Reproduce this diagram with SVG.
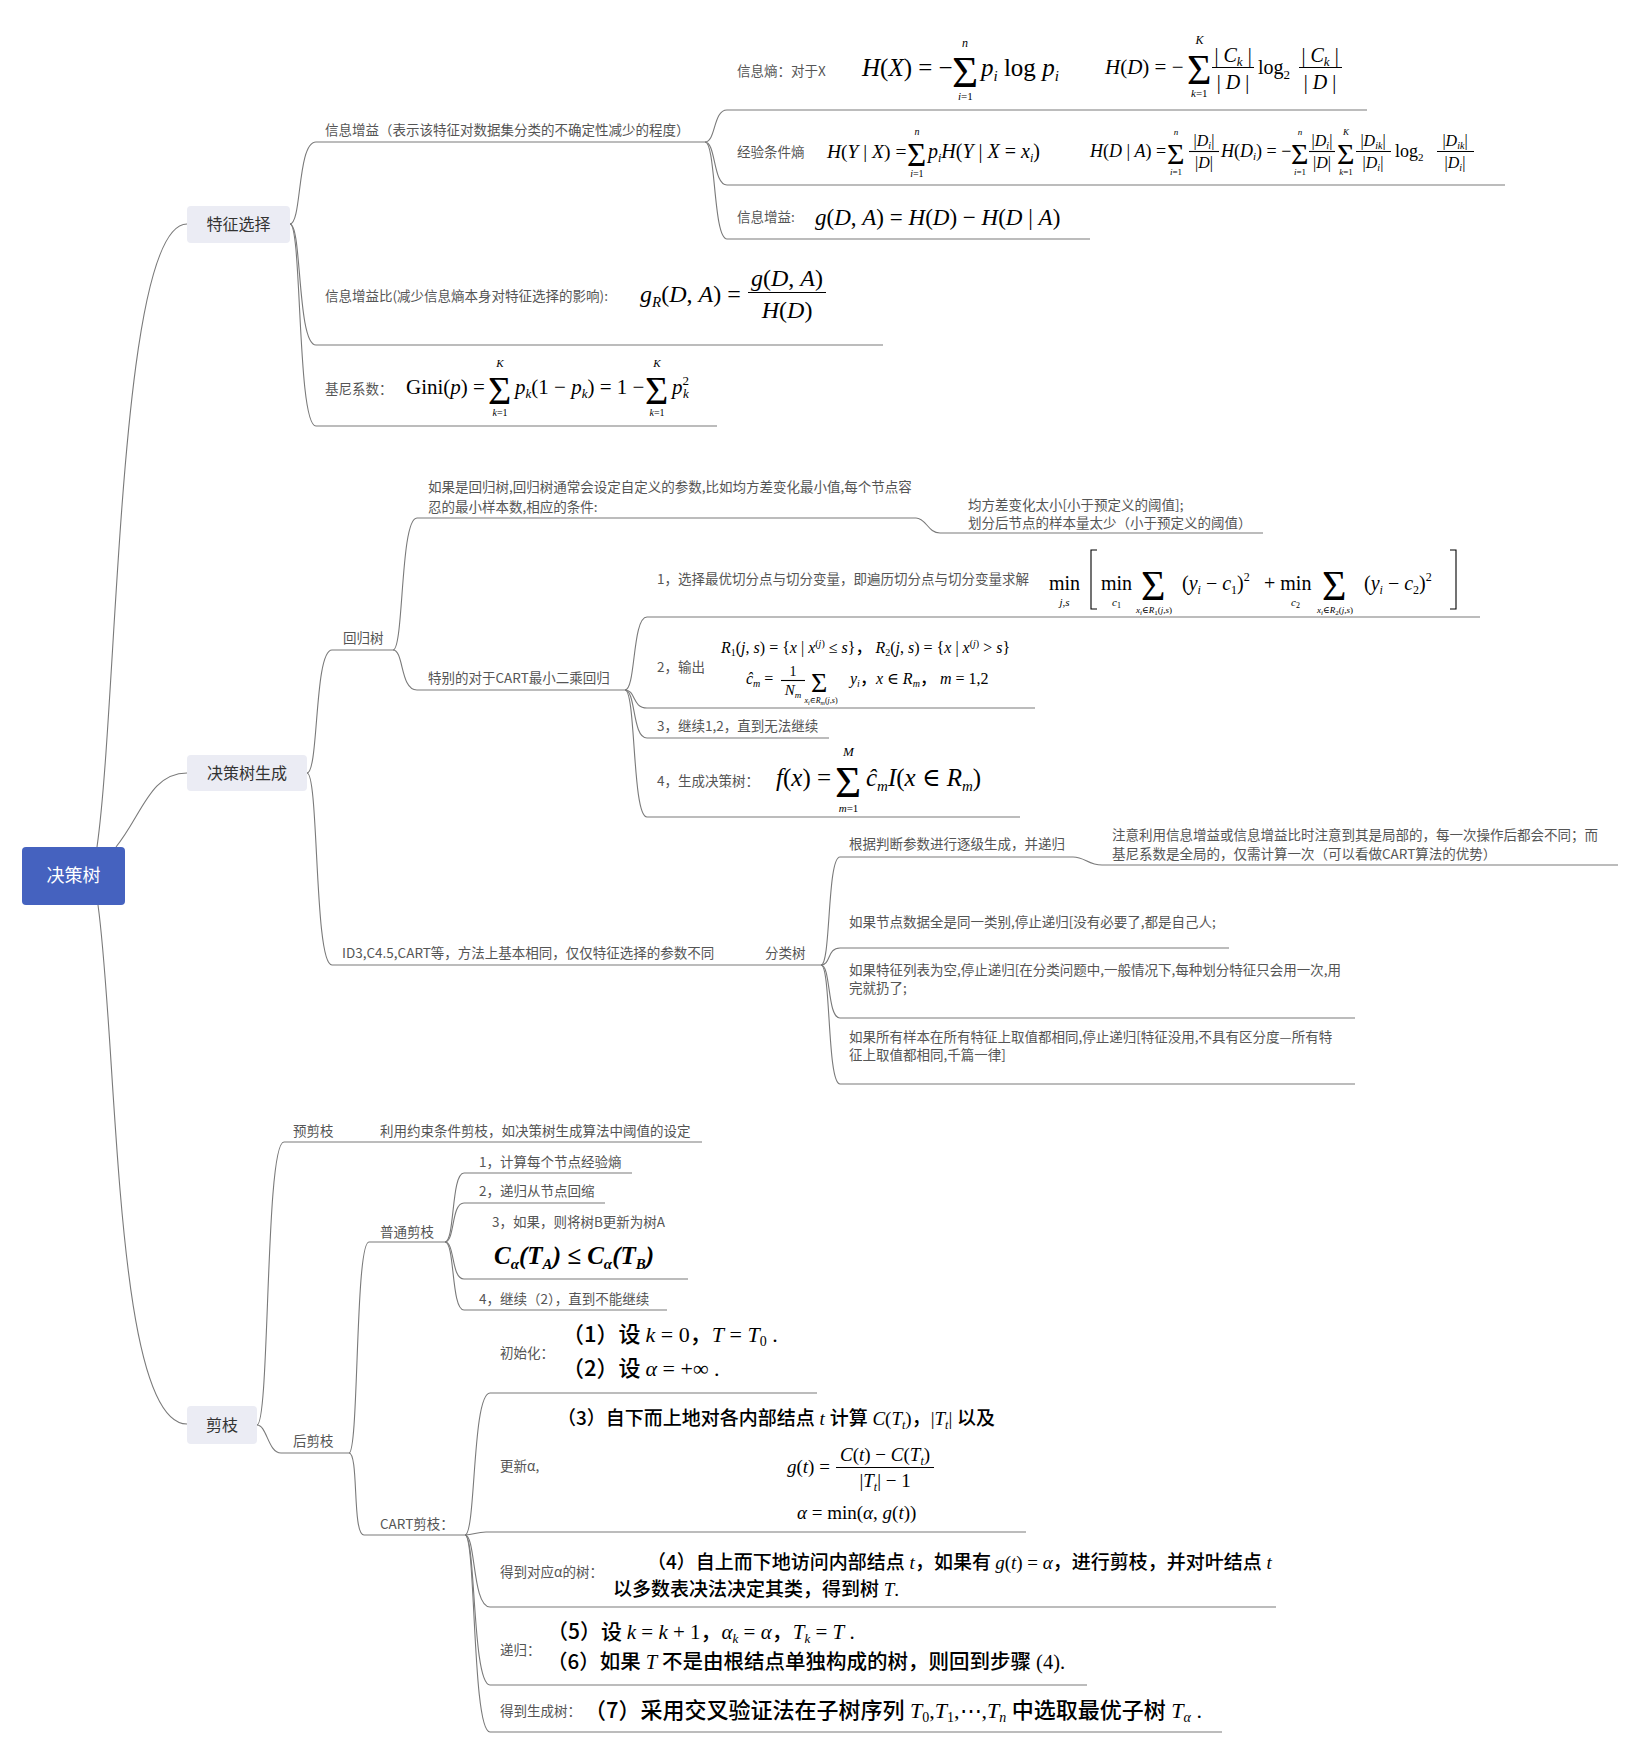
<svg xmlns="http://www.w3.org/2000/svg" width="1638" height="1752" viewBox="0 0 1638 1752">
<style>
.lk{fill:none;stroke:#7a7a7a;stroke-width:1.1}
.t{font-family:"Noto Sans CJK SC","Noto Sans",sans-serif;font-size:13.5px;fill:#555}
.b{font-family:"Noto Sans CJK SC",sans-serif;font-size:16px;fill:#333;text-anchor:middle}
.box{fill:#ebecf4}
.f{font-family:"Liberation Serif","DejaVu Serif",serif;fill:#000}
.i{font-style:italic}
.u{font-style:normal}
.c{font-family:"Noto Sans CJK SC",sans-serif;fill:#000;font-weight:500}
.bar{stroke:#000;stroke-width:1.1;fill:none}
</style>
<rect width="1638" height="1752" fill="#fff"/>
<g id="connectors">
<path class="lk" d="M97 847 C118 700,118 224,187 224"/>
<path class="lk" d="M116 847 C142 815,150 773,187 773"/>
<path class="lk" d="M98 905 C118 1050,114 1424,187 1424"/>
<path class="lk" d="M290 224 C302 224,297 142,316 142 L705 142"/>
<path class="lk" d="M290 224 C302 224,297 345,316 345 L883 345"/>
<path class="lk" d="M290 224 C302 224,297 426,316 426 L717 426"/>
<path class="lk" d="M705 142 C716 142,713 110,727 110 L1367 110"/>
<path class="lk" d="M705 142 C716 142,713 185,727 185 L1505 185"/>
<path class="lk" d="M705 142 C716 142,713 239,727 239 L1090 239"/>
<path class="lk" d="M307 773 C319 773,314 650,332 650 L393 650"/>
<path class="lk" d="M307 773 C319 773,314 965,332 965 L821 965"/>
<path class="lk" d="M393 650 C404 650,400 518,417 518 L916 518 C926 518,928 533,940 533 L1263 533"/>
<path class="lk" d="M393 650 C404 650,400 690,417 690 L625 690"/>
<path class="lk" d="M625 690 C636 690,632 617,647 617 L1480 617"/>
<path class="lk" d="M625 690 C636 690,632 708,647 708 L1035 708"/>
<path class="lk" d="M625 690 C636 690,632 738,647 738 L829 738"/>
<path class="lk" d="M625 690 C636 690,632 817,647 817 L1020 817"/>
<path class="lk" d="M821 965 C831 965,827 857,840 857 L1073 857 C1085 857,1088 865,1102 865 L1618 865"/>
<path class="lk" d="M821 965 C831 965,827 948,840 948 L1229 948"/>
<path class="lk" d="M821 965 C831 965,827 1018,840 1018 L1355 1018"/>
<path class="lk" d="M821 965 C831 965,827 1084,840 1084 L1355 1084"/>
<path class="lk" d="M257 1425 C270 1425,265 1142,284 1142 L702 1142"/>
<path class="lk" d="M257 1425 C267 1425,268 1453,281 1453 L349 1453"/>
<path class="lk" d="M349 1453 C359 1453,355 1242,369 1242 L445 1242"/>
<path class="lk" d="M349 1453 C359 1453,352 1535,364 1535 L465 1535"/>
<path class="lk" d="M445 1242 C455 1242,451 1173,464 1173 L632 1173"/>
<path class="lk" d="M445 1242 C455 1242,451 1203,464 1203 L605 1203"/>
<path class="lk" d="M445 1242 C455 1242,451 1279,464 1279 L688 1279"/>
<path class="lk" d="M445 1242 C455 1242,451 1310,464 1310 L667 1310"/>
<path class="lk" d="M465 1535 C476 1535,472 1393,490 1393 L817 1393"/>
<path class="lk" d="M465 1535 C474 1535,476 1532,486 1532 L1026 1532"/>
<path class="lk" d="M465 1535 C476 1535,472 1607,490 1607 L1276 1607"/>
<path class="lk" d="M465 1535 C476 1535,472 1685,490 1685 L1087 1685"/>
<path class="lk" d="M465 1535 C476 1535,472 1732,490 1732 L1222 1732"/>
</g>

<g id="root">
<rect x="22" y="847" width="103" height="58" rx="4" fill="#4562bf"/>
<text x="73.5" y="882" font-family="Noto Sans CJK SC,sans-serif" font-size="18" fill="#fff" text-anchor="middle">决策树</text>
</g>

<g id="n-feature">
<rect class="box" x="187" y="206" width="103" height="37" rx="4"/>
<text class="b" x="238.5" y="230">特征选择</text>
</g>
<g id="n-gen">
<rect class="box" x="187" y="755" width="120" height="36" rx="4"/>
<text class="b" x="247" y="779">决策树生成</text>
</g>
<g id="n-prune">
<rect class="box" x="187" y="1406" width="70" height="38" rx="4"/>
<text class="b" x="222" y="1431">剪枝</text>
</g>

<g id="n-ig">
<text class="t" x="325" y="135">信息增益（表示该特征对数据集分类的不确定性减少的程度）</text>
</g>

<g id="n-entropy">
<text class="t" x="737" y="76">信息熵：对于X</text>
<text class="f" y="76" font-size="25"><tspan x="862" class="i">H</tspan>(<tspan class="i">X</tspan>) = −<tspan x="952" y="87" font-size="45">Σ</tspan><tspan x="962" y="47" font-size="12" class="i">n</tspan><tspan x="958" y="100" font-size="11"><tspan class="i">i</tspan>=1</tspan><tspan x="981" y="76" class="i">p</tspan><tspan class="i" font-size="15" dy="5">i</tspan><tspan dy="-5"> log </tspan><tspan class="i">p</tspan><tspan class="i" font-size="15" dy="5">i</tspan></text>
<text class="f" y="74" font-size="21"><tspan x="1105" class="i">H</tspan>(<tspan class="i">D</tspan>) = −<tspan x="1187" y="84" font-size="42">Σ</tspan><tspan x="1195.5" y="44" font-size="12" class="i">K</tspan><tspan x="1191" y="97" font-size="11"><tspan class="i">k</tspan>=1</tspan><tspan x="1214.5" y="62" font-size="20">| <tspan class="i">C</tspan><tspan class="i" font-size="13" dy="4">k</tspan><tspan dy="-4"> |</tspan></tspan><tspan x="1216.8" y="89" font-size="20">| <tspan class="i">D</tspan> |</tspan><tspan x="1258" y="74" font-size="20">log</tspan><tspan font-size="13" dy="5">2</tspan><tspan x="1301.5" y="62" font-size="20">| <tspan class="i">C</tspan><tspan class="i" font-size="13" dy="4">k</tspan><tspan dy="-4"> |</tspan></tspan><tspan x="1303.8" y="89" font-size="20">| <tspan class="i">D</tspan> |</tspan></text>
<path class="bar" d="M1212 67.5 H1254"/>
<path class="bar" d="M1299 67.5 H1342"/>
</g>

<g id="n-condent">
<text class="t" x="737" y="157">经验条件熵</text>
<text class="f" y="158" font-size="19.5"><tspan x="827" class="i">H</tspan>(<tspan class="i">Y</tspan> | <tspan class="i">X</tspan>) =<tspan x="907" y="166" font-size="33">Σ</tspan><tspan x="914.4" y="135" font-size="10" class="i">n</tspan><tspan x="910.2" y="177" font-size="10"><tspan class="i">i</tspan>=1</tspan><tspan x="928" y="158" font-size="20"><tspan class="i">p</tspan><tspan class="i" font-size="12" dy="4">i</tspan><tspan dy="-4" class="i">H</tspan>(<tspan class="i">Y</tspan> | <tspan class="i">X</tspan> = <tspan class="i">x</tspan><tspan class="i" font-size="12" dy="4">i</tspan><tspan dy="-4">)</tspan></tspan></text>
<text class="f" y="157" font-size="18"><tspan x="1090" class="i">H</tspan>(<tspan class="i">D</tspan> | <tspan class="i">A</tspan>) =<tspan x="1167" y="164" font-size="30">Σ</tspan><tspan x="1173.7" y="135" font-size="9" class="i">n</tspan><tspan x="1170" y="175" font-size="9"><tspan class="i">i</tspan>=1</tspan><tspan x="1193.6" y="146" font-size="16">|<tspan class="i">D</tspan><tspan class="i" font-size="10" dy="3">i</tspan><tspan dy="-3">|</tspan></tspan><tspan x="1195" y="168" font-size="16">|<tspan class="i">D</tspan>|</tspan><tspan x="1221" y="157" class="i">H</tspan>(<tspan class="i">D</tspan><tspan class="i" font-size="11" dy="3">i</tspan><tspan dy="-3">) = −</tspan><tspan x="1291" y="164" font-size="30">Σ</tspan><tspan x="1297.7" y="135" font-size="9" class="i">n</tspan><tspan x="1294" y="175" font-size="9"><tspan class="i">i</tspan>=1</tspan><tspan x="1311.6" y="146" font-size="16">|<tspan class="i">D</tspan><tspan class="i" font-size="10" dy="3">i</tspan><tspan dy="-3">|</tspan></tspan><tspan x="1313" y="168" font-size="16">|<tspan class="i">D</tspan>|</tspan><tspan x="1337" y="164" font-size="30">Σ</tspan><tspan x="1343" y="135" font-size="9" class="i">K</tspan><tspan x="1339.2" y="175" font-size="9"><tspan class="i">k</tspan>=1</tspan><tspan x="1360.4" y="146" font-size="16">|<tspan class="i">D</tspan><tspan class="i" font-size="10" dy="3">ik</tspan><tspan dy="-3">|</tspan></tspan><tspan x="1362.6" y="168" font-size="16">|<tspan class="i">D</tspan><tspan class="i" font-size="10" dy="3">i</tspan><tspan dy="-3">|</tspan></tspan><tspan x="1395" y="157">log</tspan><tspan font-size="11" dy="4">2</tspan><tspan x="1442.4" y="146" font-size="16">|<tspan class="i">D</tspan><tspan class="i" font-size="10" dy="3">ik</tspan><tspan dy="-3">|</tspan></tspan><tspan x="1444.6" y="168" font-size="16">|<tspan class="i">D</tspan><tspan class="i" font-size="10" dy="3">i</tspan><tspan dy="-3">|</tspan></tspan></text>
<path class="bar" d="M1189 151.5 H1219"/>
<path class="bar" d="M1309 151.5 H1335"/>
<path class="bar" d="M1356 151.5 H1391"/>
<path class="bar" d="M1437 151.5 H1474"/>
</g>

<g id="n-gain">
<text class="t" x="737" y="222">信息增益:</text>
<text class="f" x="815" y="225" font-size="23"><tspan class="i">g</tspan>(<tspan class="i">D</tspan>, <tspan class="i">A</tspan>) = <tspan class="i">H</tspan>(<tspan class="i">D</tspan>) − <tspan class="i">H</tspan>(<tspan class="i">D</tspan> | <tspan class="i">A</tspan>)</text>
</g>

<g id="n-gainratio">
<text class="t" x="325" y="301">信息增益比(减少信息熵本身对特征选择的影响):</text>
<text class="f" y="302" font-size="24"><tspan x="640" class="i">g</tspan><tspan class="i" font-size="15" dy="5">R</tspan><tspan dy="-5">(</tspan><tspan class="i">D</tspan>, <tspan class="i">A</tspan>) =<tspan x="751" y="286" class="i">g</tspan>(<tspan class="i">D</tspan>, <tspan class="i">A</tspan>)<tspan x="761.7" y="318" class="i">H</tspan>(<tspan class="i">D</tspan>)</text>
<path class="bar" d="M748 292.5 H826"/>
</g>

<g id="n-gini">
<text class="t" x="325" y="394">基尼系数：</text>
<text class="f" y="394" font-size="21"><tspan x="406">Gini(</tspan><tspan class="i">p</tspan>) =<tspan x="488" y="404" font-size="40">Σ</tspan><tspan x="496.3" y="367" font-size="11" class="i">K</tspan><tspan x="492.5" y="416" font-size="10"><tspan class="i">k</tspan>=1</tspan><tspan x="515" y="394" class="i">p</tspan><tspan class="i" font-size="13" dy="4">k</tspan><tspan dy="-4">(1 − </tspan><tspan class="i">p</tspan><tspan class="i" font-size="13" dy="4">k</tspan><tspan dy="-4">) = 1 −</tspan><tspan x="645" y="404" font-size="40">Σ</tspan><tspan x="653.3" y="367" font-size="11" class="i">K</tspan><tspan x="649.5" y="416" font-size="10"><tspan class="i">k</tspan>=1</tspan><tspan x="672" y="394" class="i">p</tspan><tspan font-size="13" dy="-9">2</tspan><tspan class="i" font-size="13" dx="-6" dy="13">k</tspan></text>
</g>

<g id="n-regtree">
<text class="t" x="343" y="643">回归树</text>
</g>
<g id="n-regcond">
<text class="t" x="428" y="492">如果是回归树,回归树通常会设定自定义的参数,比如均方差变化最小值,每个节点容</text>
<text class="t" x="428" y="512">忍的最小样本数,相应的条件:</text>
</g>
<g id="n-regstop">
<text class="t" x="968" y="510">均方差变化太小[小于预定义的阈值];</text>
<text class="t" x="968" y="528">划分后节点的样本量太少（小于预定义的阈值）</text>
</g>
<g id="n-cart">
<text class="t" x="428" y="683">特别的对于CART最小二乘回归</text>
</g>

<g id="n-step1">
<text class="t" x="657" y="584">1，选择最优切分点与切分变量，即遍历切分点与切分变量求解</text>
<text class="f" y="590" font-size="20"><tspan x="1049">min</tspan><tspan x="1059.5" y="606" font-size="11" class="i">j,s</tspan><tspan x="1101" y="590">min</tspan><tspan x="1112" y="606" font-size="11"><tspan class="i">c</tspan><tspan font-size="8" dy="2">1</tspan></tspan><tspan x="1141" y="600" font-size="42">Σ</tspan><tspan x="1136" y="613" font-size="9"><tspan class="i">x</tspan><tspan class="i" font-size="7" dy="2">i</tspan><tspan dy="-2">∈</tspan><tspan class="i">R</tspan><tspan font-size="7" dy="2">1</tspan><tspan dy="-2">(</tspan><tspan class="i">j</tspan>,<tspan class="i">s</tspan>)</tspan><tspan x="1182" y="590">(</tspan><tspan class="i">y</tspan><tspan class="i" font-size="12" dy="4">i</tspan><tspan dy="-4"> − </tspan><tspan class="i">c</tspan><tspan font-size="12" dy="4">1</tspan><tspan dy="-4">)</tspan><tspan font-size="12" dy="-9">2</tspan><tspan x="1264" y="590">+ min</tspan><tspan x="1291" y="606" font-size="11"><tspan class="i">c</tspan><tspan font-size="8" dy="2">2</tspan></tspan><tspan x="1322" y="600" font-size="42">Σ</tspan><tspan x="1317" y="613" font-size="9"><tspan class="i">x</tspan><tspan class="i" font-size="7" dy="2">i</tspan><tspan dy="-2">∈</tspan><tspan class="i">R</tspan><tspan font-size="7" dy="2">2</tspan><tspan dy="-2">(</tspan><tspan class="i">j</tspan>,<tspan class="i">s</tspan>)</tspan><tspan x="1364" y="590">(</tspan><tspan class="i">y</tspan><tspan class="i" font-size="12" dy="4">i</tspan><tspan dy="-4"> − </tspan><tspan class="i">c</tspan><tspan font-size="12" dy="4">2</tspan><tspan dy="-4">)</tspan><tspan font-size="12" dy="-9">2</tspan></text>
<path class="bar" d="M1097 550 H1091 V609 H1097" stroke-width="1.5"/>
<path class="bar" d="M1450 550 H1456 V609 H1450" stroke-width="1.5"/>
</g>

<g id="n-step2">
<text class="t" x="657" y="672">2，输出</text>
<text class="f" x="721" y="653" font-size="16"><tspan class="i">R</tspan><tspan font-size="10" dy="3">1</tspan><tspan dy="-3">(</tspan><tspan class="i">j</tspan>, <tspan class="i">s</tspan>) = {<tspan class="i">x</tspan> | <tspan class="i">x</tspan><tspan font-size="10" dy="-6">(</tspan><tspan font-size="10" class="i">j</tspan><tspan font-size="10">)</tspan><tspan dy="6"> ≤ </tspan><tspan class="i">s</tspan>}<tspan class="c" font-weight="400">，</tspan> <tspan class="i">R</tspan><tspan font-size="10" dy="3">2</tspan><tspan dy="-3">(</tspan><tspan class="i">j</tspan>, <tspan class="i">s</tspan>) = {<tspan class="i">x</tspan> | <tspan class="i">x</tspan><tspan font-size="10" dy="-6">(</tspan><tspan font-size="10" class="i">j</tspan><tspan font-size="10">)</tspan><tspan dy="6"> &gt; </tspan><tspan class="i">s</tspan>}</text>
<text class="f" y="684" font-size="16"><tspan x="746" class="i">ĉ</tspan><tspan class="i" font-size="10" dy="3">m</tspan><tspan dy="-3"> =</tspan><tspan x="789.5" y="676" font-size="14">1</tspan><tspan x="784.8" y="695" font-size="15"><tspan class="i">N</tspan><tspan class="i" font-size="9" dy="3">m</tspan></tspan><tspan x="811" y="692" font-size="28">Σ</tspan><tspan x="804.5" y="703" font-size="8"><tspan class="i">x</tspan><tspan class="i" font-size="6" dy="2">i</tspan><tspan dy="-2">∈</tspan><tspan class="i">R</tspan><tspan class="i" font-size="6" dy="2">m</tspan><tspan dy="-2">(</tspan><tspan class="i">j</tspan>,<tspan class="i">s</tspan>)</tspan><tspan x="850" y="684" class="i">y</tspan><tspan class="i" font-size="10" dy="3">i</tspan><tspan dy="-3" class="c" font-weight="400">，</tspan><tspan class="i">x</tspan> ∈ <tspan class="i">R</tspan><tspan class="i" font-size="10" dy="3">m</tspan><tspan dy="-3" class="c" font-weight="400">，</tspan> <tspan class="i">m</tspan> = 1,2</text>
<path class="bar" d="M781 680.5 H805"/>
</g>

<g id="n-step3">
<text class="t" x="657" y="731">3，继续1,2，直到无法继续</text>
</g>

<g id="n-step4">
<text class="t" x="657" y="786">4，生成决策树：</text>
<text class="f" y="786" font-size="25"><tspan x="776" class="i">f</tspan>(<tspan class="i">x</tspan>) =<tspan x="835" y="797" font-size="45">Σ</tspan><tspan x="843" y="756" font-size="13" class="i">M</tspan><tspan x="838.7" y="812" font-size="11"><tspan class="i">m</tspan>=1</tspan><tspan x="866" y="786" class="i">ĉ</tspan><tspan class="i" font-size="15" dy="5">m</tspan><tspan dy="-5" class="i">I</tspan>(<tspan class="i">x</tspan> ∈ <tspan class="i">R</tspan><tspan class="i" font-size="15" dy="5">m</tspan><tspan dy="-5">)</tspan></text>
</g>

<g id="n-id3">
<text class="t" x="342" y="958">ID3,C4.5,CART等，方法上基本相同，仅仅特征选择的参数不同</text>
</g>
<g id="n-clstree">
<text class="t" x="765" y="958">分类树</text>
</g>
<g id="n-cls1">
<text class="t" x="849" y="849">根据判断参数进行逐级生成，并递归</text>
</g>
<g id="n-cls1note">
<text class="t" x="1112" y="840">注意利用信息增益或信息增益比时注意到其是局部的，每一次操作后都会不同；而</text>
<text class="t" x="1112" y="859">基尼系数是全局的，仅需计算一次（可以看做CART算法的优势）</text>
</g>
<g id="n-cls2">
<text class="t" x="849" y="927">如果节点数据全是同一类别,停止递归[没有必要了,都是自己人;</text>
</g>
<g id="n-cls3">
<text class="t" x="849" y="975">如果特征列表为空,停止递归[在分类问题中,一般情况下,每种划分特征只会用一次,用</text>
<text class="t" x="849" y="993">完就扔了;</text>
</g>
<g id="n-cls4">
<text class="t" x="849" y="1042">如果所有样本在所有特征上取值都相同,停止递归[特征没用,不具有区分度—所有特</text>
<text class="t" x="849" y="1060">征上取值都相同,千篇一律]</text>
</g>

<g id="n-pre">
<text class="t" x="293" y="1136">预剪枝</text>
<text class="t" x="380" y="1136">利用约束条件剪枝，如决策树生成算法中阈值的设定</text>
</g>
<g id="n-post">
<text class="t" x="293" y="1446">后剪枝</text>
</g>
<g id="n-normal">
<text class="t" x="380" y="1237">普通剪枝</text>
</g>
<g id="n-n1"><text class="t" x="479" y="1167">1，计算每个节点经验熵</text></g>
<g id="n-n2"><text class="t" x="479" y="1196">2，递归从节点回缩</text></g>
<g id="n-n3">
<text class="t" x="492" y="1227">3，如果，则将树B更新为树A</text>
<text class="f" x="494" y="1264" font-size="25" font-weight="bold" font-style="italic">C<tspan font-size="15" dy="5">α</tspan><tspan dy="-5">(T</tspan><tspan font-size="15" dy="5">A</tspan><tspan dy="-5">)  ≤  C</tspan><tspan font-size="15" dy="5">α</tspan><tspan dy="-5">(T</tspan><tspan font-size="15" dy="5">B</tspan><tspan dy="-5">)</tspan></text>
</g>
<g id="n-n4"><text class="t" x="479" y="1304">4，继续（2），直到不能继续</text></g>

<g id="n-cartprune">
<text class="t" x="380" y="1529">CART剪枝：</text>
</g>
<g id="n-init">
<text class="t" x="500" y="1358">初始化：</text>
<text class="c" x="562" y="1342" font-size="22">（1）设 <tspan class="f i">k</tspan><tspan class="f"> = 0</tspan>，<tspan class="f i">T</tspan><tspan class="f"> = </tspan><tspan class="f i">T</tspan><tspan class="f" font-size="14" dy="4">0</tspan><tspan class="f" dy="-4"> .</tspan></text>
<text class="c" x="562" y="1376" font-size="22">（2）设 <tspan class="f i">α</tspan><tspan class="f"> = +∞ .</tspan></text>
</g>
<g id="n-update">
<text class="t" x="500" y="1471">更新α,</text>
<text class="c" x="557" y="1425" font-size="19">（3）自下而上地对各内部结点<tspan class="f i"> t </tspan>计算<tspan class="f"> <tspan class="i">C</tspan>(<tspan class="i">T</tspan><tspan class="i" font-size="12" dy="4">t</tspan><tspan dy="-4">)</tspan></tspan>，<tspan class="f">|<tspan class="i">T</tspan><tspan class="i" font-size="12" dy="4">t</tspan><tspan dy="-4">| </tspan></tspan>以及</text>
<text class="f" y="1473" font-size="19"><tspan x="787" class="i">g</tspan>(<tspan class="i">t</tspan>) =<tspan x="840" y="1461" class="i">C</tspan>(<tspan class="i">t</tspan>) − <tspan class="i">C</tspan>(<tspan class="i">T</tspan><tspan class="i" font-size="12" dy="4">t</tspan><tspan dy="-4">)</tspan><tspan x="859.4" y="1487">|</tspan><tspan class="i">T</tspan><tspan class="i" font-size="12" dy="4">t</tspan><tspan dy="-4">| − 1</tspan></text>
<path class="bar" d="M836 1467.5 H934"/>
<text class="f" x="797" y="1519" font-size="19"><tspan class="i">α</tspan> = min(<tspan class="i">α</tspan>, <tspan class="i">g</tspan>(<tspan class="i">t</tspan>))</text>
</g>
<g id="n-getalpha">
<text class="t" x="500" y="1577">得到对应α的树：</text>
<text class="c" x="647" y="1569" font-size="19">（4）自上而下地访问内部结点<tspan class="f i"> t</tspan>，如果有 <tspan class="f"><tspan class="i">g</tspan>(<tspan class="i">t</tspan>) = <tspan class="i">α</tspan></tspan>，进行剪枝，并对叶结点<tspan class="f i"> t</tspan></text>
<text class="c" x="613" y="1596" font-size="19">以多数表决法决定其类，得到树<tspan class="f i"> T</tspan><tspan class="f">.</tspan></text>
</g>
<g id="n-recur">
<text class="t" x="500" y="1655">递归：</text>
<text class="c" x="547" y="1639" font-size="21">（5）设 <tspan class="f i">k</tspan><tspan class="f"> = </tspan><tspan class="f i">k</tspan><tspan class="f"> + 1</tspan>，<tspan class="f i">α</tspan><tspan class="f i" font-size="13" dy="4">k</tspan><tspan class="f" dy="-4"> = </tspan><tspan class="f i">α</tspan>，<tspan class="f i">T</tspan><tspan class="f i" font-size="13" dy="4">k</tspan><tspan class="f" dy="-4"> = </tspan><tspan class="f i">T</tspan><tspan class="f"> .</tspan></text>
<text class="c" x="547" y="1669" font-size="20.5">（6）如果<tspan class="f i"> T </tspan>不是由根结点单独构成的树，则回到步骤<tspan class="f"> (4).</tspan></text>
</g>
<g id="n-final">
<text class="t" x="500" y="1716">得到生成树：</text>
<text class="c" x="584" y="1718" font-size="22">（7）采用交叉验证法在子树序列<tspan class="f"> <tspan class="i">T</tspan><tspan font-size="14" dy="4">0</tspan><tspan dy="-4">,</tspan><tspan class="i">T</tspan><tspan font-size="14" dy="4">1</tspan><tspan dy="-4">,⋯,</tspan><tspan class="i">T</tspan><tspan class="i" font-size="14" dy="4">n</tspan><tspan dy="-4"> </tspan></tspan>中选取最优子树<tspan class="f"> <tspan class="i">T</tspan><tspan class="i" font-size="14" dy="4">α</tspan><tspan dy="-4"> .</tspan></tspan></text>
</g>
</svg>
